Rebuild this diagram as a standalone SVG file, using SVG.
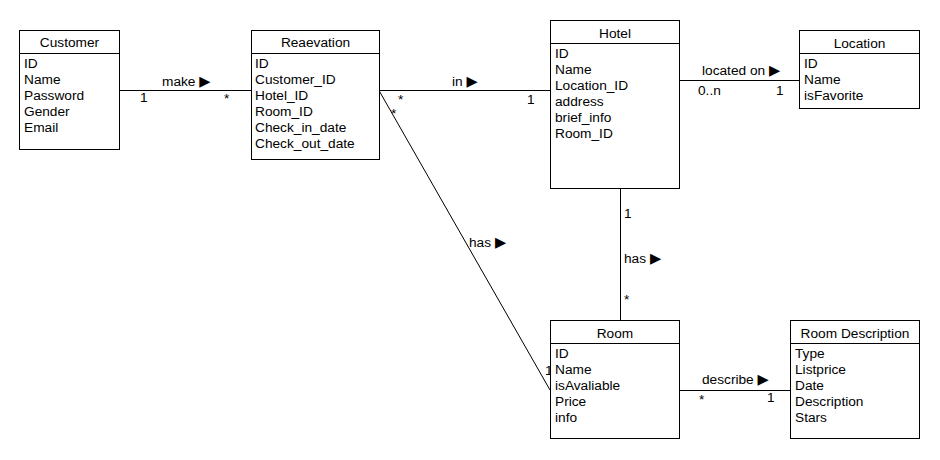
<svg xmlns="http://www.w3.org/2000/svg" width="940" height="460" viewBox="0 0 940 460">
<style>
text{font-family:"Liberation Sans",Arial,sans-serif;font-size:13.7px;fill:#000}
.h{text-anchor:middle}
.box{fill:#fff;stroke:#000;stroke-width:1}
.ln{stroke:#000;stroke-width:1;fill:none}
.tri{font-family:"DejaVu Sans",sans-serif;font-size:14.5px}
</style>
<rect width="940" height="460" fill="#fff"/>
<g id="connectors">
<line class="ln" x1="119.5" y1="90.5" x2="251" y2="90.5"/>
<line class="ln" x1="379" y1="90.5" x2="550" y2="390"/>
<line class="ln" x1="379" y1="90.5" x2="550" y2="90.5"/>
<line class="ln" x1="620.5" y1="189" x2="620.5" y2="321"/>
<line class="ln" x1="679" y1="80.5" x2="799" y2="80.5"/>
<line class="ln" x1="679" y1="390.5" x2="790" y2="390.5"/>
<text x="162" y="86">make <tspan class="tri">▶</tspan></text>
<text x="140" y="102">1</text>
<text x="224" y="103">*</text>
<text x="452" y="86">in <tspan class="tri">▶</tspan></text>
<text x="398" y="104">*</text>
<text x="527" y="104">1</text>
<text x="391" y="118">*</text>
<text x="469" y="247">has <tspan class="tri">▶</tspan></text>
<text x="624" y="263">has <tspan class="tri">▶</tspan></text>
<text x="624" y="218">1</text>
<text x="624" y="304">*</text>
<text x="702" y="75">located on <tspan class="tri">▶</tspan></text>
<text x="698" y="95">0..n</text>
<text x="776" y="95">1</text>
<text x="702" y="384">describe <tspan class="tri">▶</tspan></text>
<text x="699" y="404">*</text>
<text x="767" y="402">1</text>
<text x="545" y="375">1</text>
</g>
<g id="customer">
<rect class="box" x="19.5" y="30.5" width="100" height="119"/>
<line class="ln" x1="19.5" y1="53.5" x2="119.5" y2="53.5"/>
<text class="h" x="69.5" y="47">Customer</text>
<text x="24" y="68">ID</text>
<text x="24" y="84">Name</text>
<text x="24" y="100">Password</text>
<text x="24" y="116">Gender</text>
<text x="24" y="132">Email</text>
</g>
<g id="reaevation">
<rect class="box" x="251.5" y="30.5" width="128" height="129"/>
<line class="ln" x1="251.5" y1="53.5" x2="379.5" y2="53.5"/>
<text class="h" x="315.5" y="47">Reaevation</text>
<text x="255" y="68">ID</text>
<text x="255" y="84">Customer_ID</text>
<text x="255" y="100">Hotel_ID</text>
<text x="255" y="116">Room_ID</text>
<text x="255" y="132">Check_in_date</text>
<text x="255" y="148">Check_out_date</text>
</g>
<g id="hotel">
<rect class="box" x="550.5" y="20.5" width="129" height="168"/>
<line class="ln" x1="550.5" y1="43.5" x2="679.5" y2="43.5"/>
<text class="h" x="615" y="38">Hotel</text>
<text x="555" y="58">ID</text>
<text x="555" y="74">Name</text>
<text x="555" y="90">Location_ID</text>
<text x="555" y="106">address</text>
<text x="555" y="122">brief_info</text>
<text x="555" y="138">Room_ID</text>
</g>
<g id="location">
<rect class="box" x="799.5" y="30.5" width="120" height="78"/>
<line class="ln" x1="799.5" y1="53.5" x2="919.5" y2="53.5"/>
<text class="h" x="859.5" y="48">Location</text>
<text x="804" y="68">ID</text>
<text x="804" y="84">Name</text>
<text x="804" y="100">isFavorite</text>
</g>
<g id="room">
<rect class="box" x="550.5" y="320.5" width="129" height="118"/>
<line class="ln" x1="550.5" y1="343.5" x2="679.5" y2="343.5"/>
<text class="h" x="615" y="338">Room</text>
<text x="555" y="358">ID</text>
<text x="555" y="374">Name</text>
<text x="555" y="390">isAvaliable</text>
<text x="555" y="406">Price</text>
<text x="555" y="422">info</text>
</g>
<g id="room-description">
<rect class="box" x="790.5" y="320.5" width="129" height="118"/>
<line class="ln" x1="790.5" y1="343.5" x2="919.5" y2="343.5"/>
<text class="h" x="855" y="338">Room Description</text>
<text x="795" y="358">Type</text>
<text x="795" y="374">Listprice</text>
<text x="795" y="390">Date</text>
<text x="795" y="406">Description</text>
<text x="795" y="422">Stars</text>
</g>
</svg>
